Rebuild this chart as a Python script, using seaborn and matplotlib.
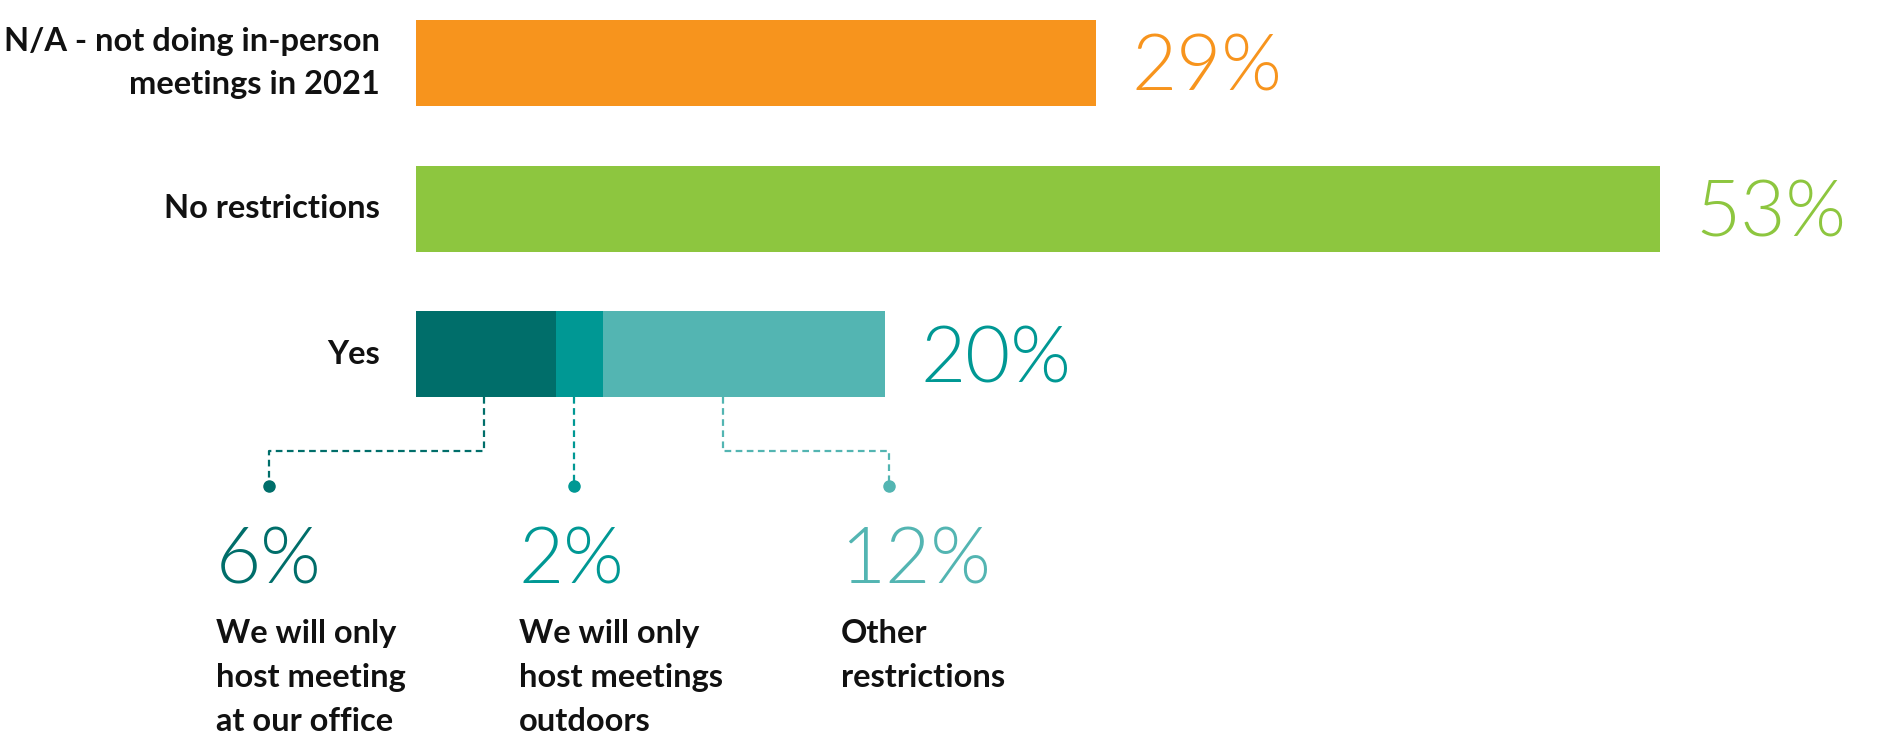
import numpy as np
import pandas as pd
import seaborn as sns
import matplotlib.pyplot as plt

# === DANE ===
categories = ["N/A - not doing in-person\nmeetings in 2021", "No restrictions", "Yes"]
totals = [29, 53, 20]
bar_colors = ["#F7941D", "#8DC63F", "#53B5B2"]
label_colors = ["#F7941D", "#8DC63F", "#009894"]

yes_parts = ["We will only\nhost meeting\nat our office",
             "We will only\nhost meetings\noutdoors",
             "Other\nrestrictions"]
yes_values = [6, 2, 12]
yes_colors = ["#006E6A", "#009894", "#53B5B2"]

# === UKŁAD (pozycje adnotacji w jednostkach osi) ===
anchor_x = [2.9, 6.75, 13.1]
dot_x = [-6.25, 6.75, 20.17]
text_x = [-8.5, 4.4, 18.1]
BAR_W = 0.59

sns.set_style("white")
plt.rcParams["font.family"] = ["Lato", "DejaVu Sans"]

fig = plt.figure(figsize=(18.83, 7.49), dpi=100)
ax = fig.add_axes([0, 0, 1, 1])

df = pd.DataFrame({"cat": categories, "val": totals})
sns.barplot(data=df, x="val", y="cat", hue="cat", order=categories,
            hue_order=categories, palette=bar_colors, saturation=1,
            width=BAR_W, legend=False, linewidth=0, ax=ax)

# stos "Yes" - nakładanie skumulowanych słupków
cum = np.cumsum(yes_values)
for i in reversed(range(len(yes_values) - 1)):
    sns.barplot(x=[cum[i]], y=["Yes"], order=categories, color=yes_colors[i],
                saturation=1, width=BAR_W, linewidth=0, ax=ax)

ax.set_xlim(-17.70, 62.5)
ax.set_ylim(4.707, -0.432)
ax.axis("off")

# etykiety kategorii i wartości
for i, (cat, v, c) in enumerate(zip(categories, totals, label_colors)):
    ax.text(-1.53, i, cat, ha="right", va="center", fontsize=23.5,
            fontweight="bold", color="#111111", linespacing=1.55)
    ax.text(v + 1.5, i + 0.04, f"{v}%", ha="left", va="center", fontsize=56,
            fontweight=300, color=c)

# linie odnośników
y_bot = 2 + BAR_W / 2
y_elbow = 2.665
y_dot = 2.902
for ax_x, dx, tx, v, lab, c in zip(anchor_x, dot_x, text_x, yes_values, yes_parts, yes_colors):
    ax.plot([ax_x, ax_x, dx, dx], [y_bot, y_elbow, y_elbow, y_dot], color=c,
            lw=1.6, linestyle=(0, (3, 2)))
    ax.plot([dx], [y_dot], "o", color=c, markersize=8)
    ax.text(tx, 3.42, f"{v}%", ha="left", va="center", fontsize=56,
            fontweight=300, color=c)
    ax.text(tx, 3.815, lab, ha="left", va="top", fontsize=23.5,
            fontweight="bold", color="#111111", linespacing=1.63)

plt.savefig("out.png", dpi=100)
plt.close()
